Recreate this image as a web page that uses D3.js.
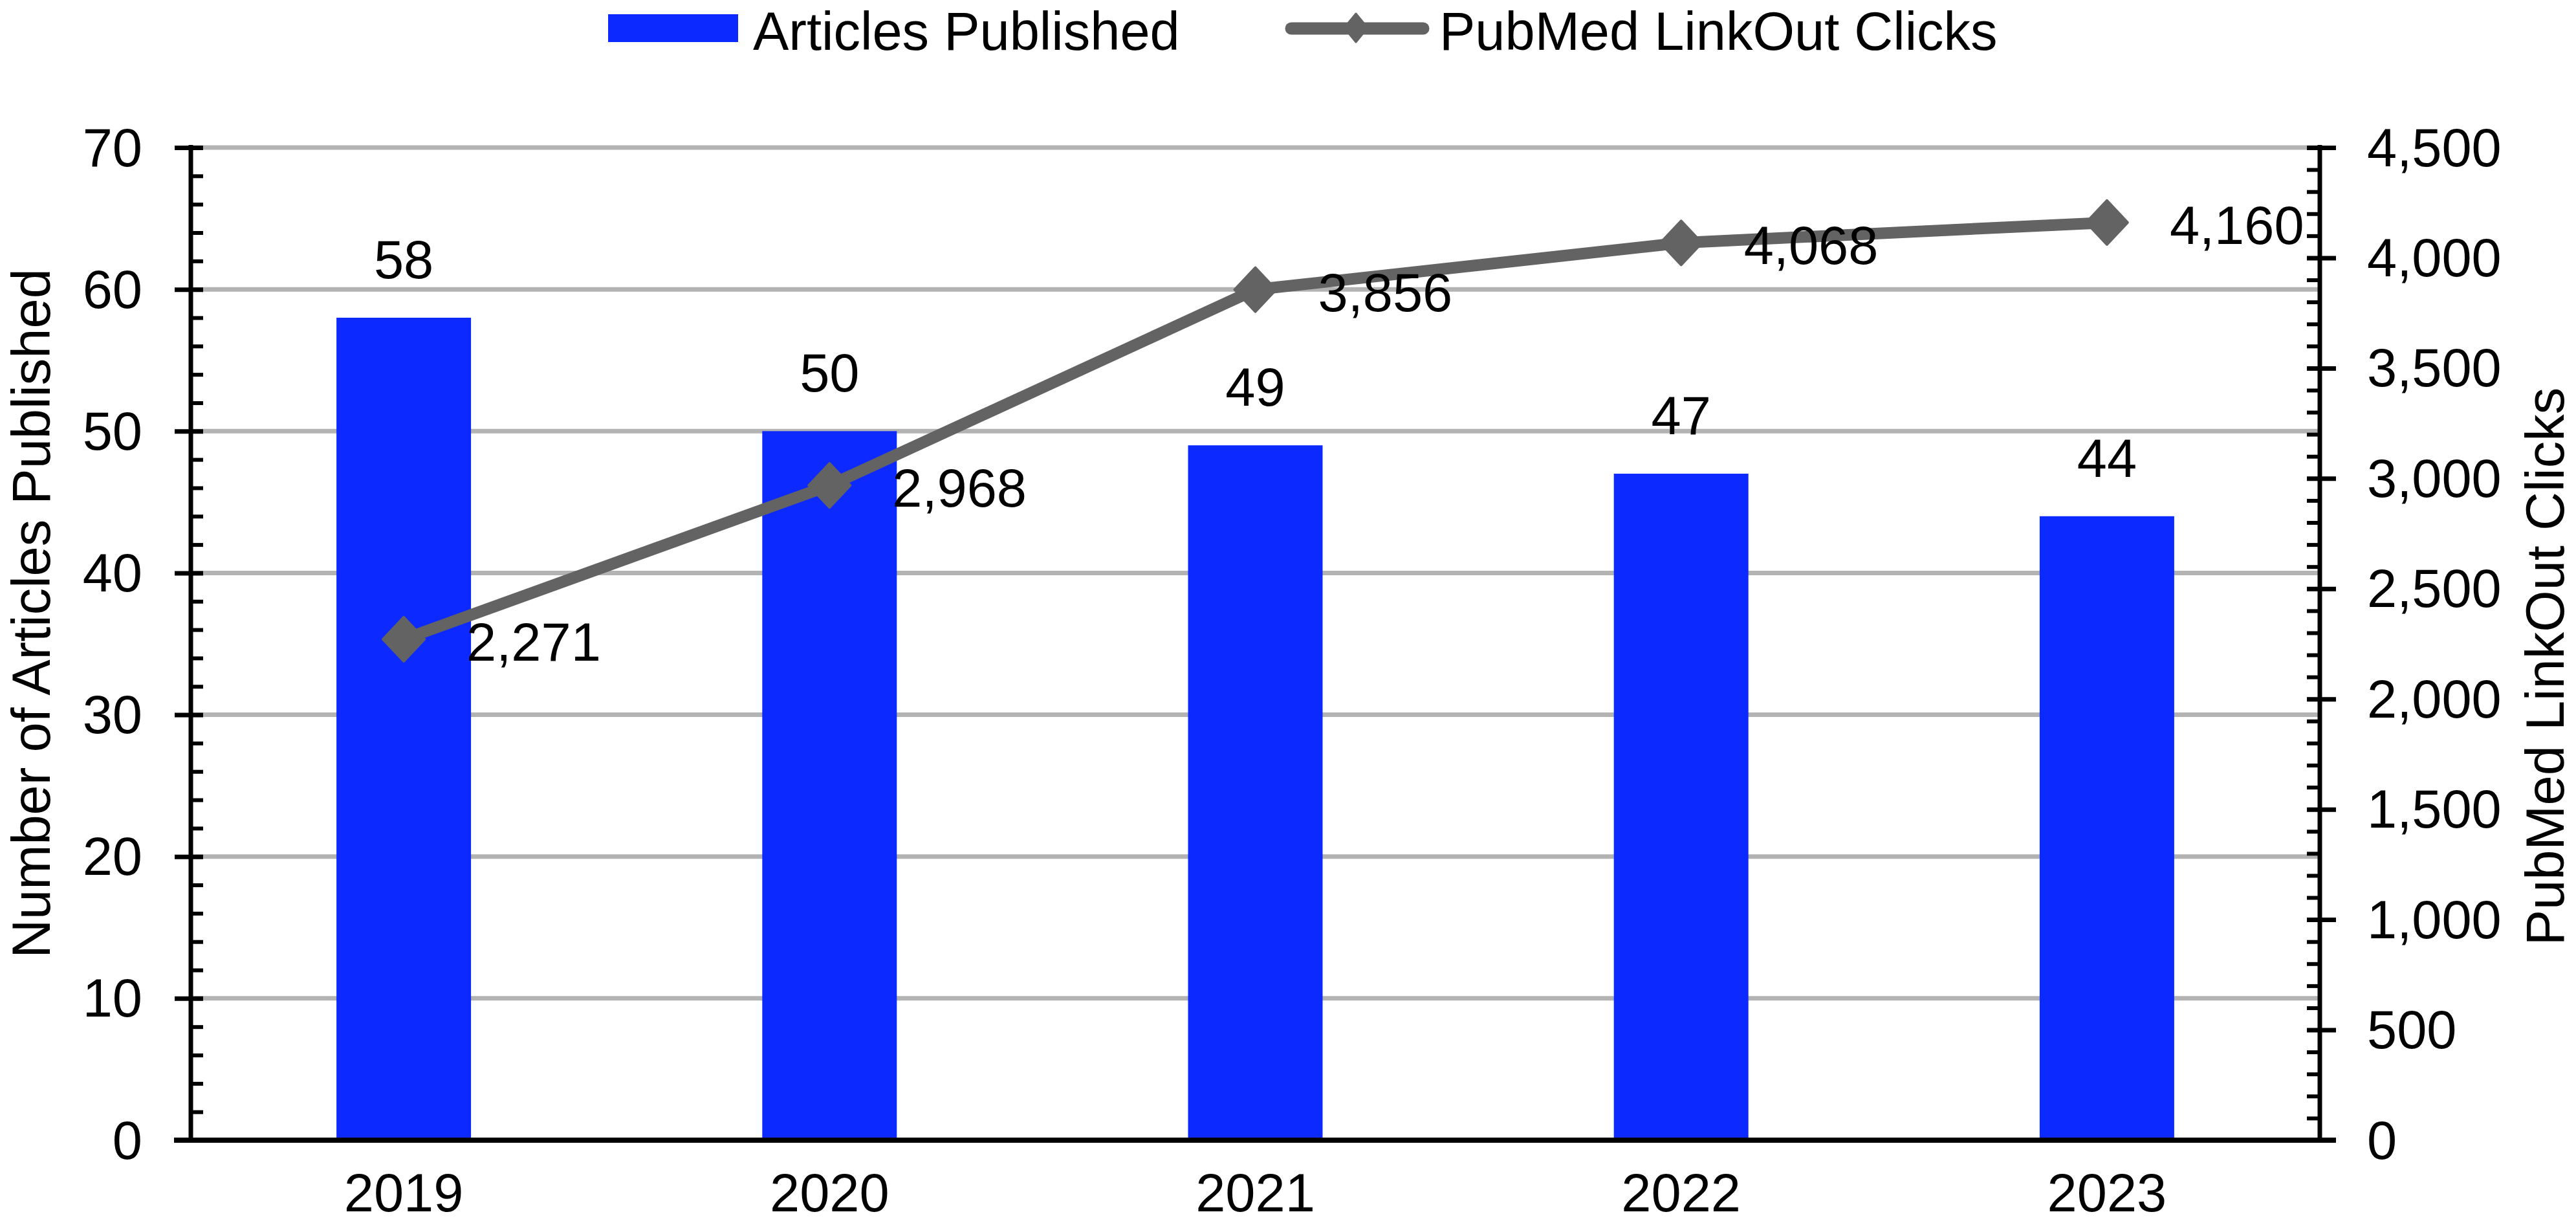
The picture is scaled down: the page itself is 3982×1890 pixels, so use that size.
<!DOCTYPE html>
<html>
<head>
<meta charset="utf-8">
<script src="https://cdn.jsdelivr.net/npm/d3@7"></script>
<style>
  html, body { margin: 0; padding: 0; background: #ffffff; }
  svg { display: block; }
  text { font-family: "Liberation Sans", Arial, Helvetica, sans-serif; fill: #000; }
</style>
</head>
<body>
<svg id="chart" width="3982" height="1890"></svg>
<script>
// ---- data ----
const years = ["2019", "2020", "2021", "2022", "2023"];
const articles = [58, 50, 49, 47, 44];
const clicks = [2271, 2968, 3856, 4068, 4160];
const leftTicks = [0, 10, 20, 30, 40, 50, 60, 70];
const rightTicks = [0, 500, 1000, 1500, 2000, 2500, 3000, 3500, 4000, 4500];
const leftMinor = d3.range(0, 70.001, 2);
const rightMinor = d3.range(0, 4500.001, 100);
const seriesNames = ["Articles Published", "PubMed LinkOut Clicks"];
const axisTitles = ["Number of Articles Published", "PubMed LinkOut Clicks"];

// ---- layout ----
const W = 3982, H = 1890;
const L = 295, R = 3586, T = 228, B = 1762;
const FS = 83;
const barColor = "#0c29ff";
const lineColor = "#636363";
const gridColor = "#b3b3b3";

const svg = d3.select("#chart");

const x = d3.scaleBand().domain(years).range([L, R]).padding(0);
const yL = d3.scaleLinear().domain([0, 70]).range([B, T]);
const yR = d3.scaleLinear().domain([0, 4500]).range([B, T]);
const fmt = d3.format(",");

// gridlines
svg.append("g").selectAll("line").data(leftTicks.filter(d => d > 0)).join("line")
  .attr("x1", L).attr("x2", R)
  .attr("y1", d => yL(d)).attr("y2", d => yL(d))
  .attr("stroke", gridColor).attr("stroke-width", 7);

// bars
const bw = x.bandwidth() * 0.316;
svg.append("g").selectAll("rect").data(articles).join("rect")
  .attr("x", (d, i) => x(years[i]) + x.bandwidth() / 2 - bw / 2)
  .attr("width", bw)
  .attr("y", d => yL(d))
  .attr("height", d => B - yL(d))
  .attr("fill", barColor);

// bar labels
svg.append("g").selectAll("text").data(articles).join("text")
  .attr("x", (d, i) => x(years[i]) + x.bandwidth() / 2)
  .attr("y", d => yL(d) - 61)
  .attr("text-anchor", "middle")
  .attr("font-size", FS)
  .text(d => d);

// left axis (major, crossing ticks)
const gL = svg.append("g").attr("transform", `translate(${L},0)`)
  .call(d3.axisLeft(yL).tickValues(leftTicks).tickSize(25).tickPadding(50).tickFormat(d => d));
gL.select(".domain").remove();
gL.selectAll(".tick line").attr("x1", 19).attr("x2", -25).attr("stroke", "#000").attr("stroke-width", 7);
gL.selectAll(".tick text").attr("font-size", FS).attr("font-family", null).attr("dy", null).attr("y", 28).attr("x", -75);
// left minor ticks (inside)
const gLm = svg.append("g").attr("transform", `translate(${L},0)`)
  .call(d3.axisRight(yL).tickValues(leftMinor.filter(d => d % 10 !== 0)).tickSize(19).tickFormat(""));
gLm.select(".domain").remove();
gLm.selectAll(".tick line").attr("stroke", "#000").attr("stroke-width", 6);
svg.append("line").attr("x1", L).attr("x2", L).attr("y1", T - 4).attr("y2", B)
  .attr("stroke", "#000").attr("stroke-width", 7);

// right axis
const gR = svg.append("g").attr("transform", `translate(${R},0)`)
  .call(d3.axisRight(yR).tickValues(rightTicks).tickSize(25).tickPadding(48).tickFormat(fmt));
gR.select(".domain").remove();
gR.selectAll(".tick line").attr("x1", -20).attr("x2", 25).attr("stroke", "#000").attr("stroke-width", 7);
gR.selectAll(".tick text").attr("font-size", FS).attr("font-family", null).attr("dy", null).attr("y", 28).attr("x", 73);
const gRm = svg.append("g").attr("transform", `translate(${R},0)`)
  .call(d3.axisLeft(yR).tickValues(rightMinor.filter(d => d % 500 !== 0)).tickSize(20).tickFormat(""));
gRm.select(".domain").remove();
gRm.selectAll(".tick line").attr("stroke", "#000").attr("stroke-width", 6);
svg.append("line").attr("x1", R).attr("x2", R).attr("y1", T - 4).attr("y2", B)
  .attr("stroke", "#000").attr("stroke-width", 7);

// x axis
const gX = svg.append("g").attr("transform", `translate(0,${B})`)
  .call(d3.axisBottom(x).tickSize(0).tickPadding(0));
gX.select(".domain").remove();
gX.selectAll(".tick text").attr("font-size", FS).attr("font-family", null).attr("dy", null).attr("y", 1872 - B);
svg.append("line").attr("x1", L - 26).attr("x2", R + 25).attr("y1", B).attr("y2", B)
  .attr("stroke", "#000").attr("stroke-width", 8);

// line series
const cx = i => x(years[i]) + x.bandwidth() / 2;
const line = d3.line().x((d, i) => cx(i)).y(d => yR(d));
svg.append("path").datum(clicks)
  .attr("d", line).attr("fill", "none")
  .attr("stroke", lineColor).attr("stroke-width", 18).attr("stroke-linejoin", "round");

const diamond = (hw, hh) => `M0,${-hh}L${hw},0L0,${hh}L${-hw},0Z`;
svg.append("g").selectAll("path").data(clicks).join("path")
  .attr("transform", (d, i) => `translate(${cx(i)},${yR(d)})`)
  .attr("d", diamond(32, 34))
  .attr("fill", lineColor).attr("stroke", lineColor)
  .attr("stroke-width", 4).attr("stroke-linejoin", "round");

svg.append("g").selectAll("text").data(clicks).join("text")
  .attr("x", (d, i) => cx(i) + 97)
  .attr("y", d => yR(d) + 33)
  .attr("font-size", FS)
  .text(d => fmt(d));

// axis titles
svg.append("text")
  .attr("transform", `translate(77,948) rotate(-90)`)
  .attr("text-anchor", "middle").attr("font-size", FS)
  .text(axisTitles[0]);
svg.append("text")
  .attr("transform", `translate(3963,1030) rotate(-90)`)
  .attr("text-anchor", "middle").attr("font-size", FS)
  .text(axisTitles[1]);

// legend
const lg = svg.append("g");
lg.append("rect").attr("x", 940).attr("y", 22).attr("width", 201).attr("height", 43).attr("fill", barColor);
lg.append("text").attr("x", 1164).attr("y", 77).attr("font-size", FS).text(seriesNames[0]);
lg.append("line").attr("x1", 1996).attr("x2", 2200).attr("y1", 44).attr("y2", 44)
  .attr("stroke", lineColor).attr("stroke-width", 19).attr("stroke-linecap", "round");
lg.append("path").attr("transform", "translate(2096,43)").attr("d", diamond(18, 22))
  .attr("fill", lineColor).attr("stroke", lineColor).attr("stroke-width", 3).attr("stroke-linejoin", "round");
lg.append("text").attr("x", 2225).attr("y", 77).attr("font-size", FS).text(seriesNames[1]);
</script>
</body>
</html>
